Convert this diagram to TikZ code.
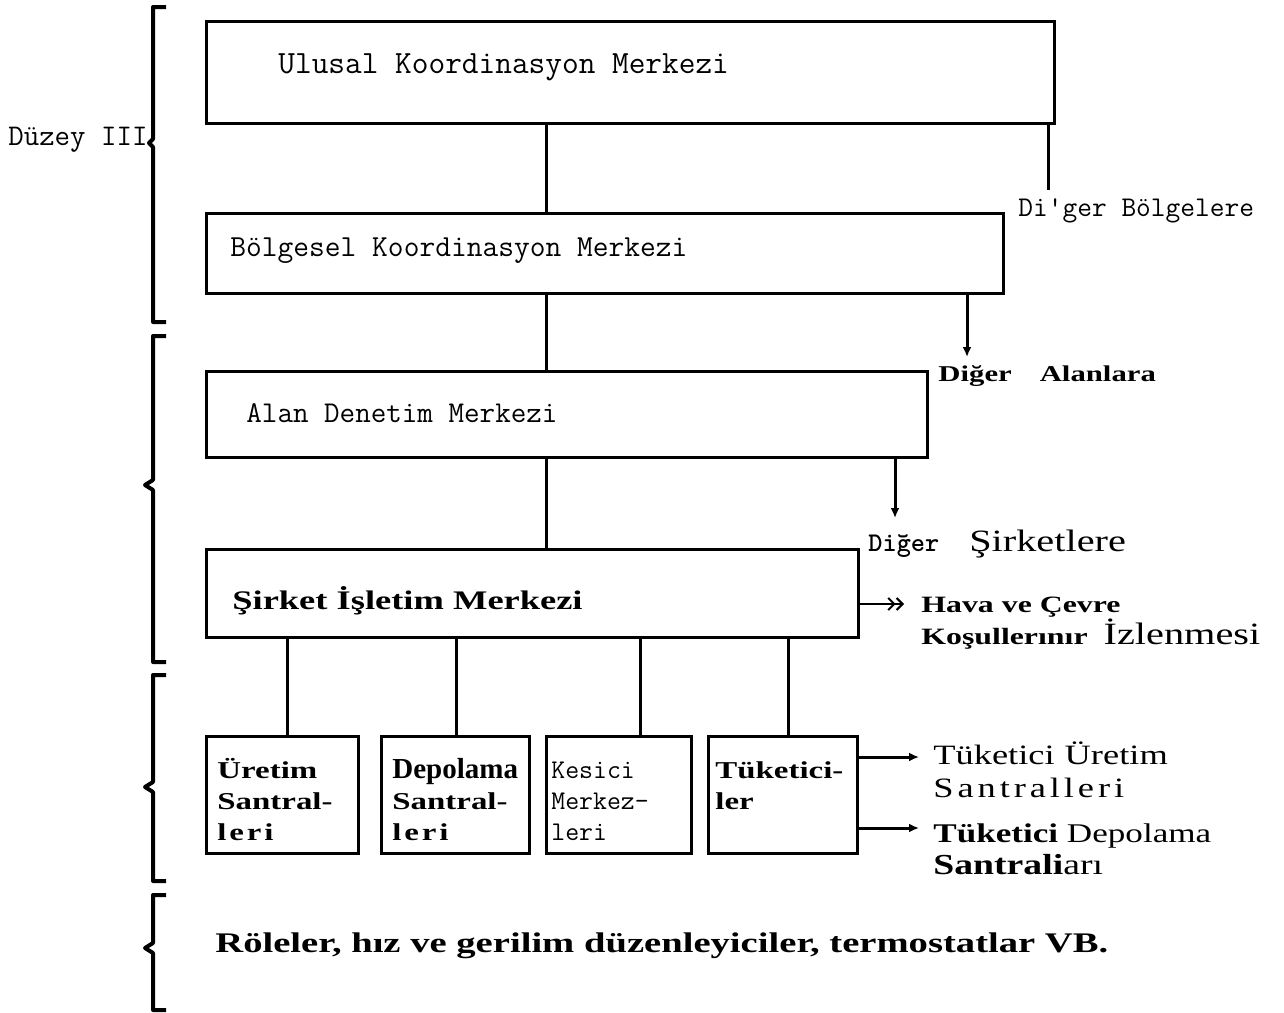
\documentclass[tikz,border=0pt]{standalone}
\usepackage{fontspec}
\setmainfont{Liberation Serif}
\newfontfamily\genisfont[FakeStretch=1.36]{Liberation Serif}
\newfontfamily\duzfont[FakeStretch=1.3]{Liberation Serif}
\usetikzlibrary{arrows.meta}
\tikzset{
	kutu/.style={draw, line width=1.5pt, rectangle, inner sep=0pt, anchor=north west},
	daktilo/.style={font=\fontsize{15.2}{17}\ttfamily\selectfont, inner sep=0pt, anchor=base west, align=left},
	kalin/.style={font=\fontsize{13.4}{16}\genisfont\bfseries\selectfont, inner sep=0pt, anchor=base west, align=left},
	kucuk/.style={font=\fontsize{12.1}{15.5}\genisfont\bfseries\selectfont, inner sep=0pt, anchor=base west, align=left},
	duz/.style={font=\fontsize{14}{16.5}\duzfont\selectfont, inner sep=0pt, anchor=base west, align=left},
	hat/.style={line width=1.5pt},
	ok/.style={line width=1.5pt, -{Latex[length=5pt,width=4.5pt]}},
	kume/.style={line width=2pt, line join=round}
}
\newcommand{\aralikli}[2]{{\addfontfeature{LetterSpace=#1}#2}}

\begin{document}
\begin{tikzpicture}[x=0.5pt, y=-0.5pt]
		\useasboundingbox (0,0) rectangle (1284,1012);
		
		% kutular
		\node[kutu, minimum width=424pt, minimum height=51pt] (ulusal) at (205,20) {};
		\node[kutu, minimum width=398.5pt, minimum height=40pt] (bolgesel) at (205,212) {};
		\node[kutu, minimum width=360.5pt, minimum height=43pt] (alan) at (205,370) {};
		\node[kutu, minimum width=326pt, minimum height=44pt] (sirket) at (205,548) {};
		
		\node[kutu, minimum width=76pt, minimum height=58.5pt] (uretim) at (205,735) {};
		\node[kutu, minimum width=74pt, minimum height=58.5pt] (depolama) at (380,735) {};
		\node[kutu, minimum width=72.5pt, minimum height=58.5pt] (kesici) at (545,735) {};
		\node[kutu, minimum width=74.5pt, minimum height=58.5pt] (tuketici) at (707,735) {};
		
		% kutu yazilari
		\node[daktilo, font=\fontsize{16.2}{18}\ttfamily\selectfont] (ulusalyazi) at (278,73) {Ulusal Koordinasyon Merkezi};
		\node[daktilo, font=\fontsize{15.3}{17}\ttfamily\selectfont] (bolgeselyazi) at (230,256) {Bölgesel Koordinasyon Merkezi};
		\node[daktilo, font=\fontsize{15.1}{17}\ttfamily\selectfont] (alanyazi) at (246,422) {Alan Denetim Merkezi};
		\node[kalin] (sirketyazi) at (232,609) {Şirket İşletim Merkezi};
		
		\node[kucuk] (uretimyazi) at (217,840) {Üretim\\Santral-\\\aralikli{12}{leri}};
		\node[kucuk] (depolamayazi) at (392,840) {{\fontsize{14.5}{15.5}\rmfamily\bfseries\selectfont Depolama}\\Santral-\\\aralikli{12}{leri}};
		\node[daktilo, font=\fontsize{13.5}{15.5}\ttfamily\selectfont] (kesiciyazi) at (551,840) {Kesici\\Merkez-\\leri};
		\node[kucuk] (tuketiciyazi) at (715,809) {Tüketici-\\ler};
		
		% baglantilar
		\coordinate (govde) at (546,0);
		\draw[hat] (ulusal.south -| govde) -- (bolgesel.north -| govde);
		\draw[hat] (bolgesel.south -| govde) -- (alan.north -| govde);
		\draw[hat] (alan.south -| govde) -- (sirket.north -| govde);
		
		\coordinate (d1) at (287,0);
		\coordinate (d2) at (456,0);
		\coordinate (d3) at (640,0);
		\coordinate (d4) at (788,0);
		\draw[hat] (sirket.south -| d1) -- (uretim.north -| d1);
		\draw[hat] (sirket.south -| d2) -- (depolama.north -| d2);
		\draw[hat] (sirket.south -| d3) -- (kesici.north -| d3);
		\draw[hat] (sirket.south -| d4) -- (tuketici.north -| d4);
		
		% diger yerlere giden hatlar
		\coordinate (bolgeucu) at (1048,190);
		\coordinate (alanucu) at (967,357);
		\coordinate (sirketucu) at (895,518);
		\draw[hat] (ulusal.south -| bolgeucu) -- (bolgeucu);
		\draw[ok] (bolgesel.south -| alanucu) -- (alanucu);
		\draw[ok] (alan.south -| sirketucu) -- (sirketucu);
		
		\node[daktilo, font=\fontsize{14.3}{16}\ttfamily\selectfont] (digerbolge) at (1018,216) {Di'ger Bölgelere};
		\node[kalin, font=\fontsize{11.3}{16}\genisfont\bfseries\selectfont] (digeralan) at (938,381) {Diğer\hspace{14pt}Alanlara};
		\node[duz, font=\fontsize{15.5}{17}\duzfont\selectfont] (digersirket) at (868,551) {{\fontsize{13.5}{15}\ttfamily\bfseries\selectfont Diğer}\hspace{15pt}Şirketlere};
		
		\coordinate (havaucu) at (904,604);
		\draw[line width=1pt, -{Straight Barb[length=3pt,width=6pt] Straight Barb[length=3pt,width=6pt]}] (sirket.east |- havaucu) -- (havaucu);
		\node[kalin, font=\fontsize{11.7}{16}\genisfont\bfseries\selectfont] (hava) at (921,644) {Hava ve Çevre\\Koşullerınır\hspace{8pt}{\fontsize{15.5}{16}\duzfont\mdseries\selectfont İzlenmesi}};
		
		\coordinate (tuk1) at (919,757);
		\coordinate (tuk2) at (919,828);
		\draw[ok] (tuketici.east |- tuk1) -- (tuk1);
		\draw[ok] (tuketici.east |- tuk2) -- (tuk2);
		\node[duz] (tukuretim) at (933,797) {Tüketici\hspace{5pt}Üretim\\\aralikli{14}{Santralleri}};
		\node[duz, font=\fontsize{13.5}{16}\duzfont\selectfont] (tukdepo) at (933,874) {\textbf{Tüketici} Depolama\\{\fontsize{14.5}{16}\selectfont\textbf{Santrali}arı}};
		
		\node[kalin, font=\fontsize{14.2}{16}\genisfont\bfseries\selectfont] (roleler) at (215,952) {Röleler, hız ve gerilim düzenleyiciler, termostatlar VB.};
		
		% duzeyler
		\draw[kume] (166,7) -- (153,7) -- (153,139) -- (149,143) -- (153,147) -- (153,322) -- (166,322);
		\node[daktilo, font=\fontsize{15}{17}\ttfamily\selectfont] (duzey) at (8,145) {Düzey III};
		\draw[kume] (166,336) -- (153,336) -- (153,480) -- (145,485) -- (153,490) -- (153,662) -- (166,662);
		\draw[kume] (166,675) -- (153,675) -- (153,782) -- (145,787) -- (153,792) -- (153,881) -- (166,881);
		\draw[kume] (166,895) -- (153,895) -- (153,943) -- (145,948) -- (153,953) -- (153,1010) -- (166,1010);
	\end{tikzpicture}
\end{document}
